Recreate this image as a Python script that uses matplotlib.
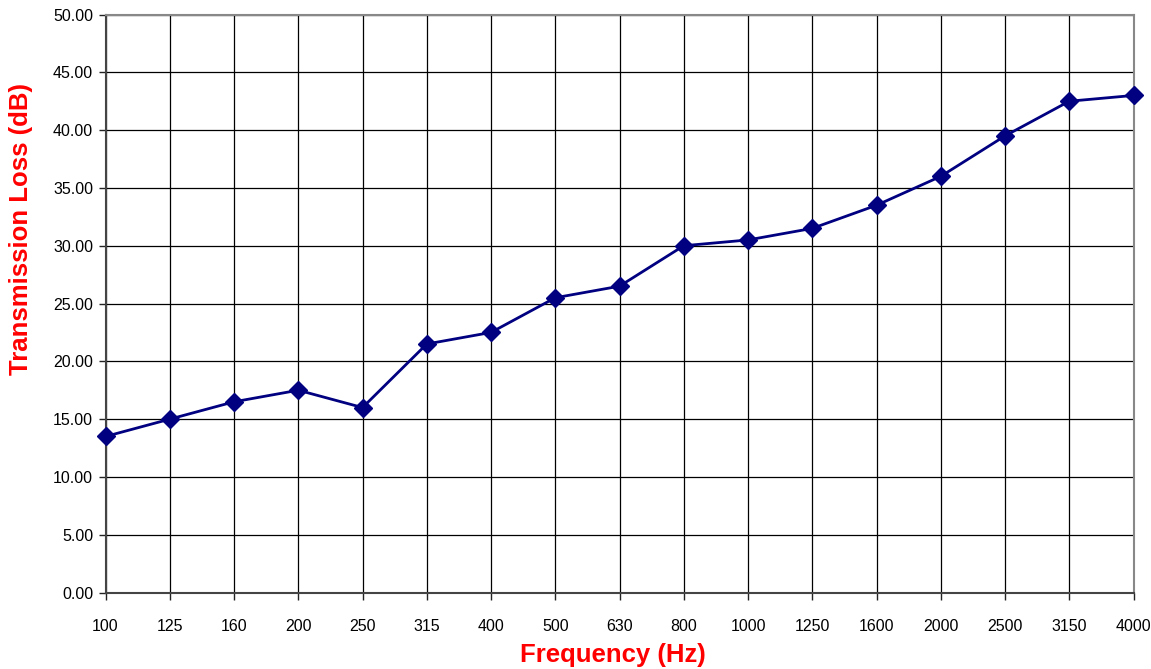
import matplotlib
matplotlib.use("Agg")
import matplotlib.pyplot as plt

freqs = ["100", "125", "160", "200", "250", "315", "400", "500", "630", "800",
         "1000", "1250", "1600", "2000", "2500", "3150", "4000"]
tl_db = [13.5, 15.0, 16.5, 17.5, 16.0, 21.5, 22.5, 25.5, 26.5, 30.0,
         30.5, 31.5, 33.5, 36.0, 39.5, 42.5, 43.0]
y_ticks = [0, 5, 10, 15, 20, 25, 30, 35, 40, 45, 50]

plt.rcParams["font.family"] = ["Liberation Sans", "DejaVu Sans"]

fig = plt.figure(figsize=(11.51, 6.69), dpi=100)
ax = fig.add_axes([0.0917, 0.1143, 0.8931, 0.864])

x = list(range(len(freqs)))
ax.plot(x, tl_db, color="#000080", lw=2.0, marker="D", ms=9.5, zorder=3,
        clip_on=False)

ax.set_xlim(0, len(freqs) - 1)
ax.set_ylim(0, 50)
ax.set_xticks(x)
ax.set_xticklabels(freqs)
ax.set_yticks(y_ticks)
ax.set_yticklabels([f"{v:.2f}" for v in y_ticks])
ax.tick_params(labelsize=11.5, direction="out", length=5, width=1, color="#222222", pad=4)
ax.tick_params(axis="x", pad=14)
ax.grid(True, color="black", lw=0.9)

for s in ("top", "right"):
    ax.spines[s].set_color("#888888")
    ax.spines[s].set_linewidth(1.5)
for s in ("left", "bottom"):
    ax.spines[s].set_color("#444444")
    ax.spines[s].set_linewidth(1.5)

ax.set_xlabel("Frequency (Hz)", color="red", fontsize=18.5, fontweight="bold")
ax.set_ylabel("Transmission Loss (dB)", color="red", fontsize=18.5, fontweight="bold")
# label spots in the source are off-centre
ax.xaxis.set_label_coords(0.494, -0.088)
ax.yaxis.set_label_coords(-0.071, 0.629)

fig.savefig("out.png", dpi=100)
